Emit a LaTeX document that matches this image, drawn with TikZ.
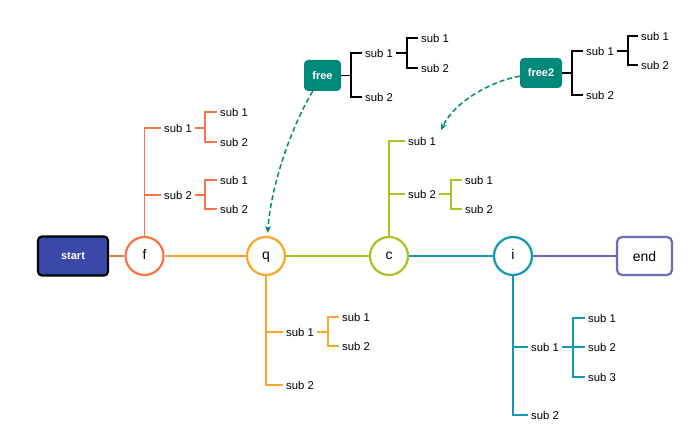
\documentclass[tikz,border=0pt]{standalone}
\usepackage{fontspec}
\setmainfont{Liberation Sans}
\usetikzlibrary{arrows.meta}
\definecolor{cf}{HTML}{FA7545}
\definecolor{cq}{HTML}{FFA52A}
\definecolor{cc}{HTML}{B0C024}
\definecolor{ci}{HTML}{1395B5}
\definecolor{cend}{HTML}{6B67B9}
\definecolor{cfree}{HTML}{00897B}
\definecolor{cstart}{HTML}{3A48AA}
\tikzset{
  main/.style={circle, draw, line width=2.2pt, fill=white, minimum size=38pt, inner sep=0pt, text height=10pt, text depth=2pt, font=\fontsize{14}{16}\selectfont},
  leaf/.style={anchor=west, inner xsep=3pt, inner ysep=2pt, font=\fontsize{11.3}{13}\selectfont},
  br/.style={line width=1.7pt},
  trunk/.style={line width=2.8pt},
  freebox/.style={rectangle, rounded corners=4pt, fill=cfree, text=white, font=\bfseries\fontsize{11}{13}\selectfont, inner sep=0pt},
  dasharrow/.style={cfree, line width=1.5pt, dash pattern=on 5pt off 3pt, -{Stealth[length=7pt,width=6pt]}}
}
\begin{document}
\begin{tikzpicture}[x=1pt,y=-1pt]
\useasboundingbox (0,0) rectangle (690,427);
% main nodes
\node[rectangle, rounded corners=4pt, draw=black, line width=2.2pt, fill=cstart, text=white, minimum width=70pt, minimum height=39pt, font=\bfseries\fontsize{11}{13}\selectfont] (start) at (73,256) {start};
\node[main, draw=cf] (f) at (144.5,256) {f};
\node[main, draw=cq] (q) at (266,256) {q};
\node[main, draw=cc] (c) at (389,256) {c};
\node[main, draw=ci] (i) at (513,256) {i};
\node[rectangle, rounded corners=5pt, draw=cend, line width=2.2pt, fill=white, minimum width=55pt, minimum height=38pt, font=\fontsize{14}{16}\selectfont] (end) at (644.5,256) {end};
% trunk
\draw[trunk, cf] (start) -- (f);
\draw[trunk, cq] (f) -- (q);
\draw[trunk, cc] (q) -- (c);
\draw[trunk, ci] (c) -- (i);
\draw[trunk, cend] (i) -- (end);
% f branch
\node[leaf] (f1) at (161,128) {sub 1};
\node[leaf] (f2) at (161,195) {sub 2};
\node[leaf] (f11) at (217,112) {sub 1};
\node[leaf] (f12) at (217,142) {sub 2};
\node[leaf] (f21) at (217,180) {sub 1};
\node[leaf] (f22) at (217,209) {sub 2};
\coordinate (fb1) at (205,128);
\coordinate (fb2) at (205,195);
\begin{scope}[br, cf]
\draw (f.north) |- (f1.west);
\draw (f.north) |- (f2.west);
\draw (f1.east) -- (fb1);
\draw (fb1) |- (f11.west);
\draw (fb1) |- (f12.west);
\draw (f2.east) -- (fb2);
\draw (fb2) |- (f21.west);
\draw (fb2) |- (f22.west);
\end{scope}
% q branch
\node[leaf] (q1) at (283,332) {sub 1};
\node[leaf] (q2) at (283,385) {sub 2};
\node[leaf] (q11) at (339,317) {sub 1};
\node[leaf] (q12) at (339,346) {sub 2};
\coordinate (qb1) at (328,332);
\begin{scope}[br, cq]
\draw (q.south) |- (q1.west);
\draw (q.south) |- (q2.west);
\draw (q1.east) -- (qb1);
\draw (qb1) |- (q11.west);
\draw (qb1) |- (q12.west);
\end{scope}
% c branch
\node[leaf] (c1) at (405,141) {sub 1};
\node[leaf] (c2) at (405,194) {sub 2};
\node[leaf] (c21) at (462,180) {sub 1};
\node[leaf] (c22) at (462,209) {sub 2};
\coordinate (cb2) at (451,194);
\begin{scope}[br, cc]
\draw (c.north) |- (c1.west);
\draw (c.north) |- (c2.west);
\draw (c2.east) -- (cb2);
\draw (cb2) |- (c21.west);
\draw (cb2) |- (c22.west);
\end{scope}
% i branch
\node[leaf] (i1) at (528,347) {sub 1};
\node[leaf] (i2) at (528,415) {sub 2};
\node[leaf] (i11) at (585,318) {sub 1};
\node[leaf] (i12) at (585,347) {sub 2};
\node[leaf] (i13) at (585,377) {sub 3};
\coordinate (ib1) at (573,347);
\begin{scope}[br, ci]
\draw (i.south) |- (i1.west);
\draw (i.south) |- (i2.west);
\draw (i1.east) -- (i12.west);
\draw (ib1) |- (i11.west);
\draw (ib1) |- (i13.west);
\end{scope}
% free
\node[freebox, minimum width=37pt, minimum height=31pt] (free) at (322.5,75.5) {free};
\node[leaf] (fr1) at (362,53) {sub 1};
\node[leaf] (fr2) at (362,97) {sub 2};
\node[leaf] (fr11) at (418,38) {sub 1};
\node[leaf] (fr12) at (418,68) {sub 2};
\coordinate (frb) at (351,75.5);
\coordinate (frb1) at (407,53);
\begin{scope}[br, black]
\draw (free.east) -- (frb);
\draw (frb) |- (fr1.west);
\draw (frb) |- (fr2.west);
\draw (fr1.east) -- (frb1);
\draw (frb1) |- (fr11.west);
\draw (frb1) |- (fr12.west);
\end{scope}
% free2
\node[freebox, minimum width=42pt, minimum height=30pt] (free2) at (541,73) {free2};
\node[leaf] (g1) at (583,51) {sub 1};
\node[leaf] (g2) at (583,95) {sub 2};
\node[leaf] (g11) at (638,36) {sub 1};
\node[leaf] (g12) at (638,65) {sub 2};
\coordinate (gb) at (572,73);
\coordinate (gb1) at (628,51);
\begin{scope}[br, black]
\draw (free2.east) -- (gb);
\draw (gb) |- (g1.west);
\draw (gb) |- (g2.west);
\draw (g1.east) -- (gb1);
\draw (gb1) |- (g11.west);
\draw (gb1) |- (g12.west);
\end{scope}
% dashed arrows
\draw[dasharrow, shorten >=3pt] (free) .. controls (292,125) and (271,185) .. (q);
\draw[dasharrow, shorten >=5pt] (free2) .. controls (495,80) and (455,100) .. (c1.north east);
\end{tikzpicture}
\end{document}
